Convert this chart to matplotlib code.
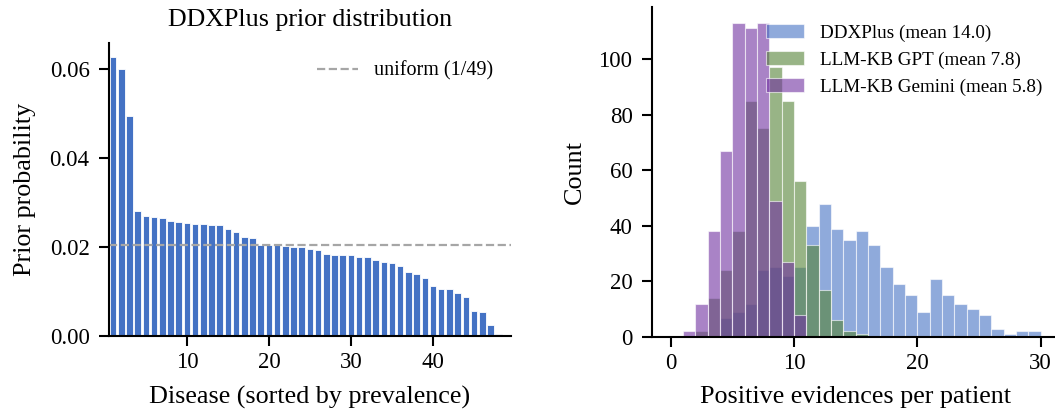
import numpy as np
import matplotlib
matplotlib.use('Agg')
import matplotlib.pyplot as plt

plt.rcParams['font.family'] = ['Liberation Serif', 'DejaVu Serif']

# Left panel: DDXPlus prior over 49 diseases, sorted by prevalence
disease_rank = list(range(1, 49))
prior_prob = [0.0626, 0.0600, 0.0493, 0.0281, 0.0269, 0.0268, 0.0265, 0.0259,
              0.0255, 0.0253, 0.0252, 0.0252, 0.0250, 0.0249, 0.0241, 0.0233,
              0.0221, 0.0220, 0.0205, 0.0205, 0.0204, 0.0203, 0.0200, 0.0199,
              0.0195, 0.0192, 0.0183, 0.0181, 0.0181, 0.0181, 0.0178, 0.0178,
              0.0170, 0.0165, 0.0163, 0.0156, 0.0144, 0.0138, 0.0130, 0.0113,
              0.0106, 0.0105, 0.0096, 0.0088, 0.0056, 0.0053, 0.0025, 0.0005]
n_diseases = 49

# Right panel: positive evidences per patient (counts per integer bin)
evid_bins = list(range(0, 30))
ddx_counts = [0, 0, 0, 0, 7, 9, 12, 24, 25, 22, 25, 40, 48, 39, 35, 38, 33, 25,
              19, 15, 9, 21, 15, 12, 10, 8, 3, 1, 2, 2]
gpt_counts = [0, 0, 2, 14, 24, 38, 85, 75, 97, 85, 56, 33, 17, 6, 2, 1, 0, 0,
              0, 0, 0, 0, 0, 0, 0, 0, 0, 0, 0, 0]
gem_counts = [0, 2, 12, 38, 67, 113, 111, 113, 49, 27, 8, 0, 0, 0, 0, 0, 0, 0,
              0, 0, 0, 0, 0, 0, 0, 0, 0, 0, 0, 0]
series_labels = ['DDXPlus (mean 14.0)', 'LLM-KB GPT (mean 7.8)', 'LLM-KB Gemini (mean 5.8)']
series_colors = ['#4472C4', '#548235', '#7030A0']

fig = plt.figure(figsize=(10.55, 4.12), dpi=100)
ax1 = fig.add_axes([0.1033, 0.1845, 0.381, 0.711])
ax2 = fig.add_axes([0.618, 0.182, 0.386, 0.801])

# prior bars
ax1.bar(disease_rank, prior_prob, width=0.8, color='#4472C4',
        edgecolor='white', linewidth=0.6)
ax1.axhline(1 / n_diseases, color='#a6a6a6', linestyle='--', linewidth=1.6,
            label='uniform (1/49)')
ax1.set_xlim(0.5, 49.5)
ax1.set_yticks([0.0, 0.02, 0.04, 0.06])
ax1.set_yticklabels(['0.00', '0.02', '0.04', '0.06'])
ax1.set_xticks([10, 20, 30, 40])
ax1.set_title('DDXPlus prior distribution', fontsize=18.7, pad=12)
ax1.set_xlabel('Disease (sorted by prevalence)', fontsize=18.8, labelpad=9)
ax1.set_ylabel('Prior probability', fontsize=18.8, labelpad=10)
ax1.legend(frameon=False, fontsize=14.5, loc='upper right')

# evidence histograms
for counts, lab, col in zip([ddx_counts, gpt_counts, gem_counts], series_labels, series_colors):
    ax2.bar(evid_bins, counts, width=1.0, align='edge', color=col, alpha=0.6,
            edgecolor='white', linewidth=0.8, label=lab)
ax2.set_xticks([0, 10, 20, 30])
ax2.set_yticks([0, 20, 40, 60, 80, 100])
ax2.set_xlabel('Positive evidences per patient', fontsize=18.8, labelpad=9)
ax2.set_ylabel('Count', fontsize=18.8, labelpad=9)
ax2.legend(frameon=False, fontsize=13.8, loc='upper right')

for ax in (ax1, ax2):
    ax.spines['top'].set_visible(False)
    ax.spines['right'].set_visible(False)
    ax.spines['left'].set_linewidth(1.5)
    ax.spines['bottom'].set_linewidth(1.5)
    ax.tick_params(labelsize=16.5, length=7, width=1.5)
    ax.tick_params(axis='y', pad=7)
    ax.tick_params(axis='x', pad=4.5)

fig.savefig('out.png', dpi=100)
